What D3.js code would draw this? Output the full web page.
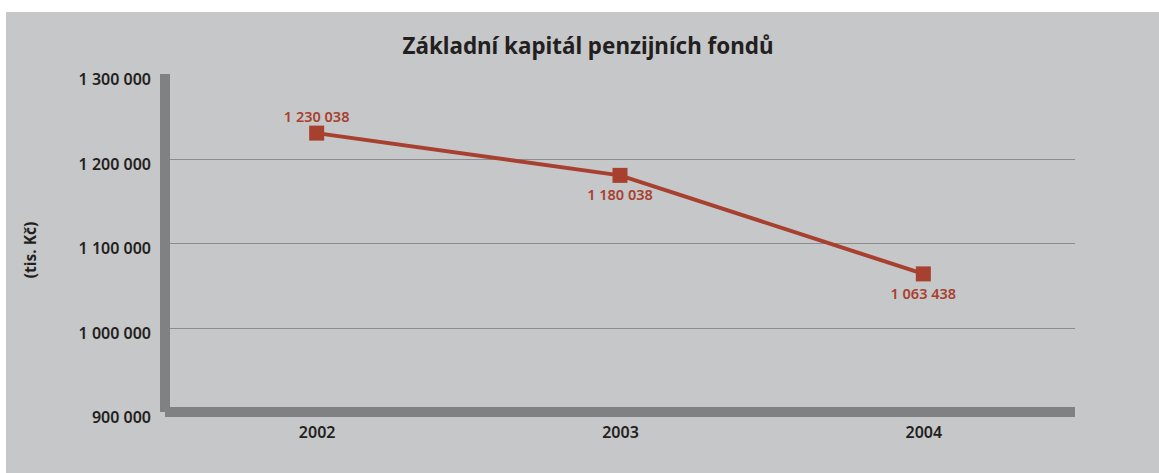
<!DOCTYPE html>
<html lang="cs">
<head>
  <meta charset="UTF-8">
  <title>Základní kapitál penzijních fondů</title>
  <script src="https://d3js.org/d3.v7.min.js"></script>
  <style>
    body { margin: 0; background: #fff; }
    text { font-family: "Noto Sans", "Open Sans", sans-serif; }
    .tick text { font-size: 16px; font-weight: 600; fill: #231f20; }
    .grid { stroke: #8c8c8e; stroke-width: 1.2px; }
    .label { font-size: 14.5px; font-weight: 600; fill: #a8402f; }
  </style>
</head>
<body>
  <svg width="1159" height="473"></svg>
  <script>
    const years = ["2002", "2003", "2004"];
    const values = [1230038, 1180038, 1063438];
    const labelPos = ["above", "below", "below"];
    const yTicks = [900000, 1000000, 1100000, 1200000, 1300000];

    const svg = d3.select("svg");
    const red = "#a8402f";
    const axisGray = "#808183";

    svg.append("rect")
      .attr("x", 6).attr("y", 12)
      .attr("width", 1153).attr("height", 461)
      .attr("fill", "#c6c7c9");

    const x = d3.scalePoint().domain(years).range([165, 1075]).padding(0.5);
    const y = d3.scaleLinear().domain([900000, 1300000]).range([412, 74]);

    const fmt = v => d3.format(",")(v).replace(/,/g, " ");

    // gridlines
    svg.append("g")
      .selectAll("line")
      .data(yTicks.filter(d => d > 900000 && d < 1300000))
      .join("line")
      .attr("class", "grid")
      .attr("x1", 170).attr("x2", 1075)
      .attr("y1", d => Math.round(y(d)) + 0.5)
      .attr("y2", d => Math.round(y(d)) + 0.5);

    // thick axis bars
    svg.append("rect")
      .attr("x", 160).attr("y", y(1300000))
      .attr("width", 10).attr("height", y(900000) - y(1300000))
      .attr("fill", axisGray);
    svg.append("rect")
      .attr("x", 165).attr("y", y(900000) - 5)
      .attr("width", 1075 - 165).attr("height", 10)
      .attr("fill", axisGray);

    // y axis labels (sit a little below their gridline, as in the original)
    const yAxis = d3.axisLeft(y).tickValues(yTicks).tickFormat(fmt).tickSize(0).tickPadding(0);
    svg.append("g")
      .attr("transform", "translate(151,5)")
      .call(yAxis)
      .call(g => g.select(".domain").remove())
      .selectAll("text").attr("dy", "0.35em");

    // x axis labels
    const xAxis = d3.axisBottom(x).tickSize(0).tickPadding(0);
    svg.append("g")
      .attr("transform", "translate(0,427)")
      .call(xAxis)
      .call(g => g.select(".domain").remove())
      .selectAll("text").attr("dy", "0.71em");

    // line
    const pts = years.map((yr, i) => ({ year: yr, value: values[i], pos: labelPos[i] }));
    svg.append("path")
      .datum(pts)
      .attr("fill", "none")
      .attr("stroke", red)
      .attr("stroke-width", 4)
      .attr("d", d3.line().x(d => x(d.year)).y(d => y(d.value)));

    svg.append("g")
      .selectAll("rect")
      .data(pts)
      .join("rect")
      .attr("x", d => x(d.year) - 7.5)
      .attr("y", d => y(d.value) - 7.5)
      .attr("width", 15).attr("height", 15)
      .attr("fill", red);

    svg.append("g")
      .selectAll("text")
      .data(pts)
      .join("text")
      .attr("class", "label")
      .attr("text-anchor", "middle")
      .attr("x", d => x(d.year))
      .attr("y", d => y(d.value) + (d.pos === "above" ? -11 : 25))
      .text(d => fmt(d.value));

    // title
    svg.append("text")
      .attr("x", 588).attr("y", 54)
      .attr("text-anchor", "middle")
      .attr("font-size", 22.4)
      .attr("font-weight", 700)
      .attr("fill", "#231f20")
      .text("Základní kapitál penzijních fondů");

    // y axis title
    svg.append("text")
      .attr("transform", "translate(36,250) rotate(-90)")
      .attr("text-anchor", "middle")
      .attr("font-size", 15.5)
      .attr("font-weight", 700)
      .attr("fill", "#231f20")
      .text("(tis. Kč)");
  </script>
</body>
</html>
